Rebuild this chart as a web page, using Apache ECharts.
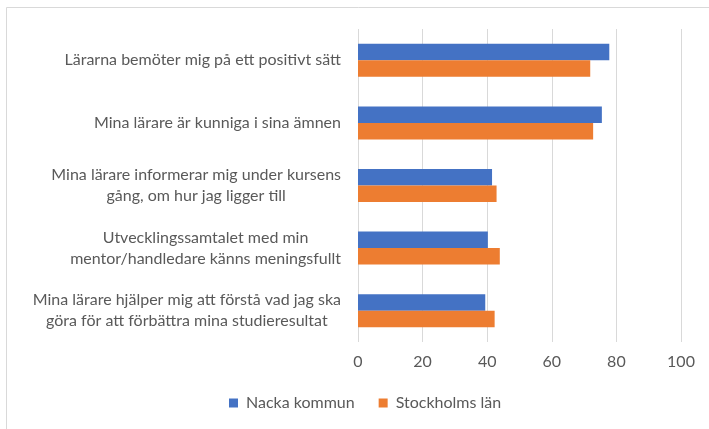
<!DOCTYPE html>
<html>
<head>
<meta charset="utf-8">
<script src="https://cdn.jsdelivr.net/npm/echarts@6/dist/echarts.min.js"></script>
<style>
  html, body { margin: 0; padding: 0; background: #ffffff; }
  #chart { width: 709px; height: 429px; }
</style>
</head>
<body>
<div id="chart"></div>
<script>
// Survey statements (top to bottom)
const categories = [
  'Lärarna bemöter mig på ett positivt sätt',
  'Mina lärare är kunniga i sina ämnen',
  'Mina lärare informerar mig under kursens\ngång, om hur jag ligger till',
  'Utvecklingssamtalet med min\nmentor/handledare känns meningsfullt',
  'Mina lärare hjälper mig att förstå vad jag ska\ngöra för att förbättra mina studieresultat'
];
const nackaValues = [77.8, 75.5, 41.5, 40.2, 39.4];
const stockholmValues = [71.9, 72.8, 42.9, 43.9, 42.3];
const seriesNames = ['Nacka kommun', 'Stockholms län'];
const xTicks = [0, 20, 40, 60, 80, 100];

const FONT = 'Lato';
const TEXT = '#595959';

const chart = echarts.init(document.getElementById('chart'), null, { renderer: 'canvas' });

chart.setOption({
  animation: false,
  backgroundColor: '#ffffff',
  graphic: [{
    type: 'rect',
    shape: { x: 6.5, y: 7.5, width: 720, height: 440 },
    style: { fill: 'none', stroke: '#d9d9d9', lineWidth: 1 },
    silent: true
  }],
  grid: { left: 358, right: 28, top: 29, bottom: 87, containLabel: false },
  legend: {
    data: seriesNames,
    left: 229,
    top: 395,
    padding: 0,
    itemWidth: 9,
    itemHeight: 9,
    itemGap: 24,
    icon: 'rect',
    textStyle: { fontFamily: FONT, fontSize: 16, color: TEXT, padding: [0, 0, 0, 3] }
  },
  xAxis: {
    type: 'value',
    min: xTicks[0],
    max: xTicks[xTicks.length - 1],
    interval: 20,
    axisLine: { show: false },
    axisTick: { show: false },
    splitLine: { show: true, lineStyle: { color: '#d9d9d9', width: 1 } },
    axisLabel: { fontFamily: FONT, fontSize: 16, color: TEXT, margin: 12 }
  },
  yAxis: {
    type: 'category',
    data: categories,
    inverse: true,
    axisLine: { show: false },
    axisTick: { show: false },
    axisLabel: {
      margin: 17,
      formatter: function (v) {
        return v.split('\n').map(function (l) { return '{c|' + l + '}'; }).join('\n');
      },
      rich: {
        c: { align: 'center', fontFamily: FONT, fontSize: 16, color: TEXT, lineHeight: 21 }
      }
    }
  },
  series: [
    {
      name: seriesNames[0],
      type: 'bar',
      data: nackaValues,
      barWidth: 16.5,
      barGap: '0%',
      itemStyle: { color: '#4472c4' }
    },
    {
      name: seriesNames[1],
      type: 'bar',
      data: stockholmValues,
      barWidth: 16.5,
      barGap: '0%',
      itemStyle: { color: '#ed7d31' }
    }
  ]
});
</script>
</body>
</html>
